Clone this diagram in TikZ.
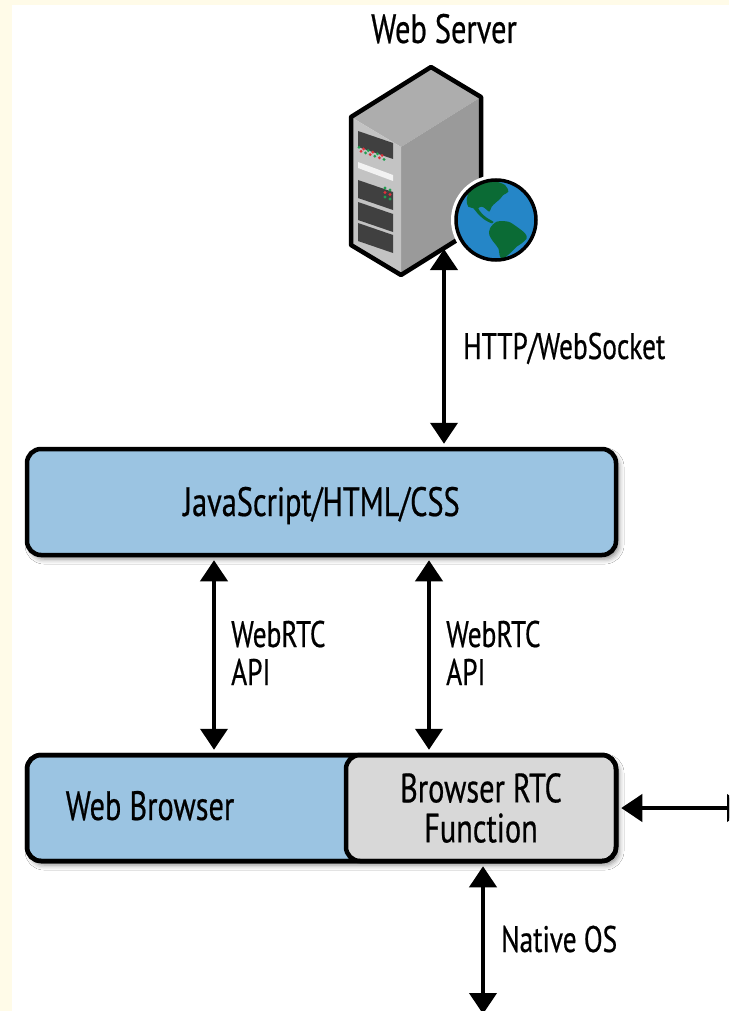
\documentclass[tikz,border=0pt]{standalone}
\usepackage{fontspec}
\setmainfont{PT Sans}[FakeStretch=0.74, FakeBold=0.5]
\usetikzlibrary{arrows.meta,shadows.blur}
\definecolor{cream}{HTML}{FFFBE8}
\definecolor{boxblue}{HTML}{9BC4E2}
\definecolor{boxgray}{HTML}{D8D8D8}
\definecolor{globeblue}{HTML}{2586C7}
\definecolor{globegreen}{HTML}{0B6B35}
\definecolor{srvtop}{HTML}{ADADAD}
\definecolor{srvright}{HTML}{9A9A9A}
\definecolor{srvleft}{HTML}{C3C3C3}
\definecolor{slotdark}{HTML}{404040}
\definecolor{ledred}{HTML}{E0303A}
\definecolor{ledgreen}{HTML}{20A050}
\tikzset{
  layer/.style={draw=black, line width=4.5pt, rounded corners=14pt,
    minimum width=589pt, minimum height=106pt, inner sep=0pt},
  shadowed/.style={blur shadow={shadow xshift=3pt, shadow yshift=-4pt,
    shadow blur radius=5pt, shadow opacity=45}},
  biglabel/.style={font=\fontsize{41}{42}\selectfont, inner sep=0pt},
  smalllabel/.style={font=\fontsize{37}{38}\selectfont, align=left, inner sep=0pt},
  link/.style={line width=4pt, shorten <=3pt, shorten >=3pt,
    {Triangle[width=27pt,length=21pt]}-{Triangle[width=27pt,length=21pt]}},
  slotbox/.style={fill=slotdark},
  led/.style={radius=1.6pt},
}
\begin{document}
\begin{tikzpicture}[x=1pt,y=-1pt]
\useasboundingbox (0,0) rectangle (729,1011);
\clip (0,0) rectangle (729,1011);
\fill[cream] (0,0) rectangle (729,1011);
\fill[white] (12,5) rectangle (729,1011);

% title
\node[biglabel, anchor=base] (title) at (444,43) {Web Server};

% server
\fill[srvtop] (431,67) -- (481,97) -- (401,147) -- (351,117) -- cycle;
\fill[srvright] (401,147) -- (481,97) -- (481,225) -- (401,275) -- cycle;
\fill[srvleft] (351,117) -- (401,147) -- (401,275) -- (351,245) -- cycle;
\fill[slotbox] (358,131) -- (393,143) -- (393,159) -- (358,147) -- cycle;
\fill[white!90!gray] (358,162) -- (393,175) -- (393,181) -- (358,168) -- cycle;
\fill[slotbox] (358,180) -- (393,192) -- (393,210) -- (358,198) -- cycle;
\fill[slotbox] (358,202) -- (393,214) -- (393,232) -- (358,220) -- cycle;
\fill[slotbox] (358,223) -- (393,235) -- (393,253) -- (358,241) -- cycle;
\foreach \i in {0,...,5}{
  \pgfmathsetmacro{\xx}{359+4.6*\i}
  \pgfmathsetmacro{\yy}{147+0.35*(\xx-358)}
  \ifodd\i
    \fill[ledred] (\xx,\yy) circle[led];
    \fill[ledgreen] (\xx+2,\yy+4) circle[led];
  \else
    \fill[ledgreen] (\xx,\yy) circle[led];
    \fill[ledred] (\xx+2,\yy+4) circle[led];
  \fi
}
\fill[ledgreen] (385,188) circle[led]; \fill[ledgreen] (390,190) circle[led];
\fill[ledred] (385,192.5) circle[led]; \fill[ledred] (390,194.5) circle[led];
\fill[ledgreen] (385,197) circle[led]; \fill[ledgreen] (390,199) circle[led];
\draw[black, line width=4.5pt, line join=round]
  (431,67) -- (481,97) -- (481,225) -- (401,275) -- (351,245) -- (351,117) -- cycle;

% globe
\fill[white] (496,220) circle[radius=45];
\begin{scope}
  \clip (496,220) circle[radius=40];
  \fill[globeblue] (496,220) circle[radius=40];
  \fill[globegreen] plot[smooth cycle, tension=0.5] coordinates {
    (466.7,200) (470,190) (480,183.3) (493.3,181) (505,185) (508.3,191.7)
    (503.3,195) (500,199) (495,203.3) (491.7,206.7) (489.3,211.7) (485,208.3)
    (481.7,206.7) (478.3,208.3) (481.7,213.3) (486.7,217.7) (493.3,221.7)
    (491.7,223.3) (485,220) (478.3,214.3) (473.3,208.3) (468.3,206.7)};
  \fill[globegreen] plot[smooth cycle, tension=0.5] coordinates {
    (490,228.3) (496.7,221.7) (508.3,221.7) (516.7,226.7) (525,233.3)
    (526.7,238.3) (521.7,243.3) (516.7,246.7) (510,253.3) (503.3,258.3)
    (500,256.7) (498.3,248.3) (493.3,241.7) (489.3,235)};
\end{scope}
\draw[black, line width=3.5pt] (496,220) circle[radius=40];
\coordinate (srvbot) at (444,249);

% layers
\node[layer, fill=boxblue, shadowed, biglabel, text height=28pt, text depth=0pt]
  (js) at (321.5,502) {JavaScript/HTML/CSS};
\node[layer, fill=boxblue, shadowed] (wb) at (321.5,808) {};
\node[layer, fill=boxgray, minimum width=270pt, align=center,
  font=\fontsize{41}{40}\selectfont] (rtc) at (481,808) {Browser RTC\\Function};
\node[biglabel, anchor=base] (wblbl) at (150,820) {Web Browser};
\draw[black, line width=4.5pt, rounded corners=14pt] (wb.north west) ++(2.25,2.25) rectangle ([shift={(-2.25,-2.25)}]wb.south east);

% connectors
\coordinate (a1) at (214,0);
\coordinate (a2) at (429,0);
\coordinate (eastend) at (748,808);
\coordinate (southend) at (483,1014);
\draw[link, shorten <=0pt] (srvbot) -- (js.north -| srvbot);
\draw[link] (js.south -| a1) -- (wb.north -| a1);
\draw[link] (js.south -| a2) -- (rtc.north -| a2);
\draw[link, shorten >=0pt] (rtc.east) -- (eastend);
\draw[link, shorten >=0pt] (rtc.south -| southend) -- (southend);

% labels
\node[smalllabel, anchor=base west] (httplbl) at (463,359) {HTTP/WebSocket};
\node[smalllabel, anchor=base west] (api1) at (231,685) {WebRTC\\API};
\node[smalllabel, anchor=base west] (api2) at (446,685) {WebRTC\\API};
\node[smalllabel, anchor=base west] (oslbl) at (501,952) {Native OS};
\end{tikzpicture}
\end{document}
